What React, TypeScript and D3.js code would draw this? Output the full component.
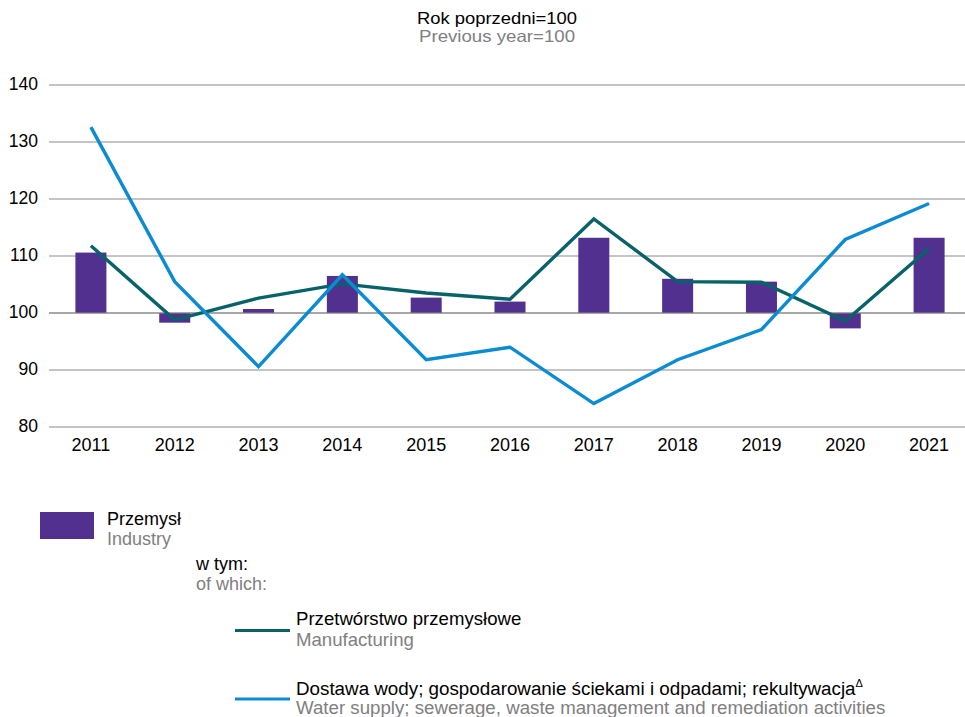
import React from "react";
import * as d3 from "d3";

const years = ["2011", "2012", "2013", "2014", "2015", "2016", "2017", "2018", "2019", "2020", "2021"];
const industry = [110.6, 98.3, 100.7, 106.5, 102.7, 102.0, 113.2, 106.0, 105.5, 97.3, 113.2];
const manufacturing = [111.8, 98.8, 102.6, 105.1, 103.5, 102.4, 116.5, 105.5, 105.4, 98.6, 111.3];
const waterSupply = [132.6, 105.5, 90.6, 106.7, 91.8, 94.0, 84.1, 91.8, 97.1, 112.9, 119.2];
const yTicks = [80, 90, 100, 110, 120, 130, 140];

const FONT = "'Liberation Sans', Arial, sans-serif";
const PURPLE = "#52308f";
const TEAL = "#08626a";
const BLUE = "#0a8bd2";
const GREY_TEXT = "#808080";

export default function App() {
  const width = 965;
  const height = 717;

  const x = d3.scaleBand<string>()
    .domain(years)
    .range([49, 971])
    .paddingInner(0.63)
    .paddingOuter(0.315);

  const y = d3.scaleLinear().domain([80, 140]).range([427, 85]);

  const cx = (i: number) => (x(years[i]) as number) + x.bandwidth() / 2;

  const line = d3.line<number>()
    .x((_, i) => cx(i))
    .y(d => y(d));

  return (
    <svg
      width={width}
      height={height}
      style={{ position: "absolute", left: 0, top: 0 }}
      fontFamily={FONT}
    >
      <rect width={width} height={height} fill="#fff" />
      <text x={497} y={23.5} textAnchor="middle" fontSize={16.5} textLength={160} lengthAdjust="spacingAndGlyphs" fill="#000">Rok poprzedni=100</text>
      <text x={497} y={42} textAnchor="middle" fontSize={16.5} textLength={156} lengthAdjust="spacingAndGlyphs" fill={GREY_TEXT}>Previous year=100</text>

      {/* grid + y labels */}
      {yTicks.map(t => (
        <g key={t}>
          <line x1={49} x2={width} y1={y(t)} y2={y(t)} stroke="#8a8a8a" strokeWidth={1.2} />
          <text x={38} y={y(t) + 5} textAnchor="end" fontSize={17.5} fill="#000">{t}</text>
        </g>
      ))}

      {/* bars */}
      {industry.map((v, i) => (
        <rect
          key={years[i]}
          x={x(years[i])}
          width={x.bandwidth()}
          y={y(Math.max(v, 100))}
          height={Math.abs(y(v) - y(100))}
          fill={PURPLE}
        />
      ))}
      <line x1={49} x2={width} y1={y(100)} y2={y(100)} stroke="#8a8a8a" strokeWidth={1.2} />

      <path d={line(manufacturing) || ""} fill="none" stroke={TEAL} strokeWidth={3.4} strokeLinejoin="miter" />
      <path d={line(waterSupply) || ""} fill="none" stroke={BLUE} strokeWidth={3.4} strokeLinejoin="miter" />

      {/* x labels */}
      {years.map((yr, i) => (
        <text key={yr} x={cx(i)} y={451} textAnchor="middle" fontSize={18} fill="#000">{yr}</text>
      ))}

      {/* legend */}
      <rect x={40} y={512} width={54} height={27} fill={PURPLE} />
      <text x={107} y={525} fontSize={18} fill="#000">Przemysł</text>
      <text x={107} y={545} fontSize={18} fill={GREY_TEXT}>Industry</text>

      <text x={196} y={570} fontSize={18} fill="#000">w tym:</text>
      <text x={196} y={590} fontSize={18} fill={GREY_TEXT}>of which:</text>

      <line x1={235} x2={290} y1={630.5} y2={630.5} stroke={TEAL} strokeWidth={3.2} />
      <text x={296} y={625} fontSize={18.6} fill="#000">Przetwórstwo przemysłowe</text>
      <text x={296} y={646} fontSize={18.6} fill={GREY_TEXT}>Manufacturing</text>

      <line x1={235} x2={290} y1={699} y2={699} stroke={BLUE} strokeWidth={3.2} />
      <text x={296} y={695} fontSize={18.8} fill="#000">
        Dostawa wody; gospodarowanie ściekami i odpadami; rekultywacja
        <tspan fontSize={11} dy={-8}>Δ</tspan>
      </text>
      <text x={296} y={714} fontSize={18.7} fill={GREY_TEXT}>Water supply; sewerage, waste management and remediation activities</text>
    </svg>
  );
}
